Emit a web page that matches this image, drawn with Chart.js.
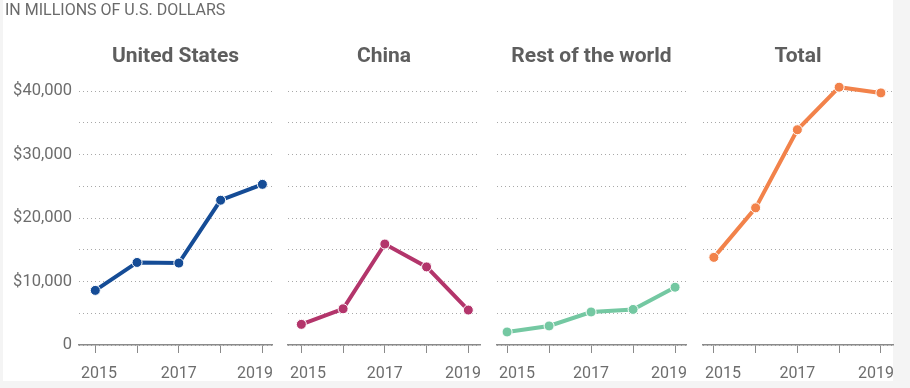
<!DOCTYPE html>
<html>
<head>
<meta charset="utf-8">
<script src="https://cdn.jsdelivr.net/npm/chart.js@4.4.1/dist/chart.umd.min.js"></script>
<style>
  html, body { margin: 0; padding: 0; background: #f4f4f4; }
  #wrap { position: relative; width: 910px; height: 388px; overflow: hidden; }
  #panel { position: absolute; left: 3px; top: 0; width: 890px; height: 381px; background: #fff; }
  #header {
    position: absolute; left: 5px; top: 0px;
    font-family: Roboto, sans-serif; font-size: 16px; color: #6a6a6a;
    line-height: 20px;
  }
  .box { position: absolute; top: 0; height: 388px; }
</style>
</head>
<body>
<div id="wrap">
  <div id="panel"></div>
  <div class="box" style="left:0px;width:291px"><canvas id="c0"></canvas></div>
  <div class="box" style="left:268px;width:232px"><canvas id="c1"></canvas></div>
  <div class="box" style="left:477px;width:229px"><canvas id="c2"></canvas></div>
  <div class="box" style="left:683px;width:227px"><canvas id="c3"></canvas></div>
  <div id="header">IN MILLIONS OF U.S. DOLLARS</div>
</div>
<script>
const years = [2015, 2016, 2017, 2018, 2019];
const labeledYears = [2015, 2017, 2019];

const unitedStates = [8600, 13000, 12900, 22800, 25300];
const china = [3250, 5700, 15900, 12300, 5500];
const restOfWorld = [2050, 3000, 5200, 5600, 9100];
const total = [13800, 21600, 33900, 40600, 39700];

const panelTitles = ["United States", "China", "Rest of the world", "Total"];
const panelSeries = [unitedStates, china, restOfWorld, total];
const panelColors = ["#154c96", "#b3356b", "#74c8a2", "#f2824a"];

const yTicks = [0, 10000, 20000, 30000, 40000];

// x range per panel so the year ticks sit where they do in the original
const panelLayout = [
  { xMin: 2014.61, xMax: 2019.23, padLeft: 0, padRight: 19 },
  { xMin: 2014.68, xMax: 2019.28, padLeft: 20, padRight: 20 },
  { xMin: 2014.76, xMax: 2019.26, padLeft: 20, padRight: 20 },
  { xMin: 2014.74, xMax: 2019.29, padLeft: 20, padRight: 17 },
];

const FONT = "Roboto, sans-serif";
const TEXT = "#6d6d6d";

// titles centred on the plot area, year labels kept inside the panel
const panelText = {
  id: "panelText",
  afterDraw(chart, args, opts) {
    const { ctx, chartArea, scales } = chart;
    ctx.save();
    ctx.fillStyle = "#5e5e5e";
    ctx.font = "bold 21px " + FONT;
    ctx.textAlign = "center";
    ctx.textBaseline = "alphabetic";
    ctx.fillText(opts.title, (chartArea.left + chartArea.right) / 2, 62);

    ctx.font = "16px " + FONT;
    ctx.fillStyle = TEXT;
    ctx.textAlign = "left";
    labeledYears.forEach((yr) => {
      const txt = String(yr);
      const w = ctx.measureText(txt).width;
      let x = scales.x.getPixelForValue(yr) - w / 2;
      x = Math.max(chartArea.left + 2, Math.min(x, chartArea.right + 1 - w));
      ctx.fillText(txt, x, 378);
    });
    ctx.restore();
  },
};

function makeChart(idx) {
  const first = idx === 0;
  const lay = panelLayout[idx];
  const canvas = document.getElementById("c" + idx);
  const points = years.map((y, i) => ({ x: y, y: panelSeries[idx][i] }));

  return new Chart(canvas, {
    type: "line",
    data: {
      datasets: [
        {
          data: points,
          borderColor: panelColors[idx],
          backgroundColor: panelColors[idx],
          borderWidth: 4,
          pointRadius: 5,
          pointBorderColor: "#fff",
          pointBorderWidth: 1,
          pointHoverRadius: 5,
          tension: 0,
          clip: false,
        },
      ],
    },
    plugins: [panelText],
    options: {
      responsive: true,
      maintainAspectRatio: false,
      animation: false,
      events: [],
      layout: {
        padding: { top: 91, bottom: 6, left: lay.padLeft, right: lay.padRight },
      },
      plugins: {
        legend: { display: false },
        tooltip: { enabled: false },
        title: { display: false },
        panelText: { title: panelTitles[idx] },
      },
      scales: {
        x: {
          type: "linear",
          min: lay.xMin,
          max: lay.xMax,
          afterBuildTicks: (scale) => {
            scale.ticks = years.map((v) => ({ value: v }));
          },
          afterFit: (scale) => {
            scale.height = 37;
            scale.paddingLeft = 0;
            scale.paddingRight = 0;
          },
          ticks: {
            autoSkip: false,
            maxRotation: 0,
            callback: () => "",
          },
          grid: {
            drawOnChartArea: false,
            drawTicks: true,
            tickLength: 8,
            color: "#8a8a8a",
            lineWidth: 1,
          },
          border: { display: true, color: "#8a8a8a", width: 1.5 },
        },
        y: {
          min: 0,
          max: 40000,
          afterFit: (scale) => {
            scale.width = first ? 79 : 0;
            scale.paddingTop = 0;
            scale.paddingBottom = 0;
          },
          ticks: {
            display: first,
            stepSize: 5000,
            color: TEXT,
            font: { family: FONT, size: 16.5 },
            padding: 7,
            callback: (v) => {
              if (!yTicks.includes(v)) return "";
              if (v === 0) return "0";
              return "$" + v.toLocaleString("en-US");
            },
          },
          grid: {
            drawTicks: false,
            color: "#a8a8a8",
            lineWidth: 1,
          },
          border: { display: false, dash: [1, 3] },
        },
      },
    },
  });
}

for (let i = 0; i < 4; i++) {
  makeChart(i);
}
</script>
</body>
</html>
